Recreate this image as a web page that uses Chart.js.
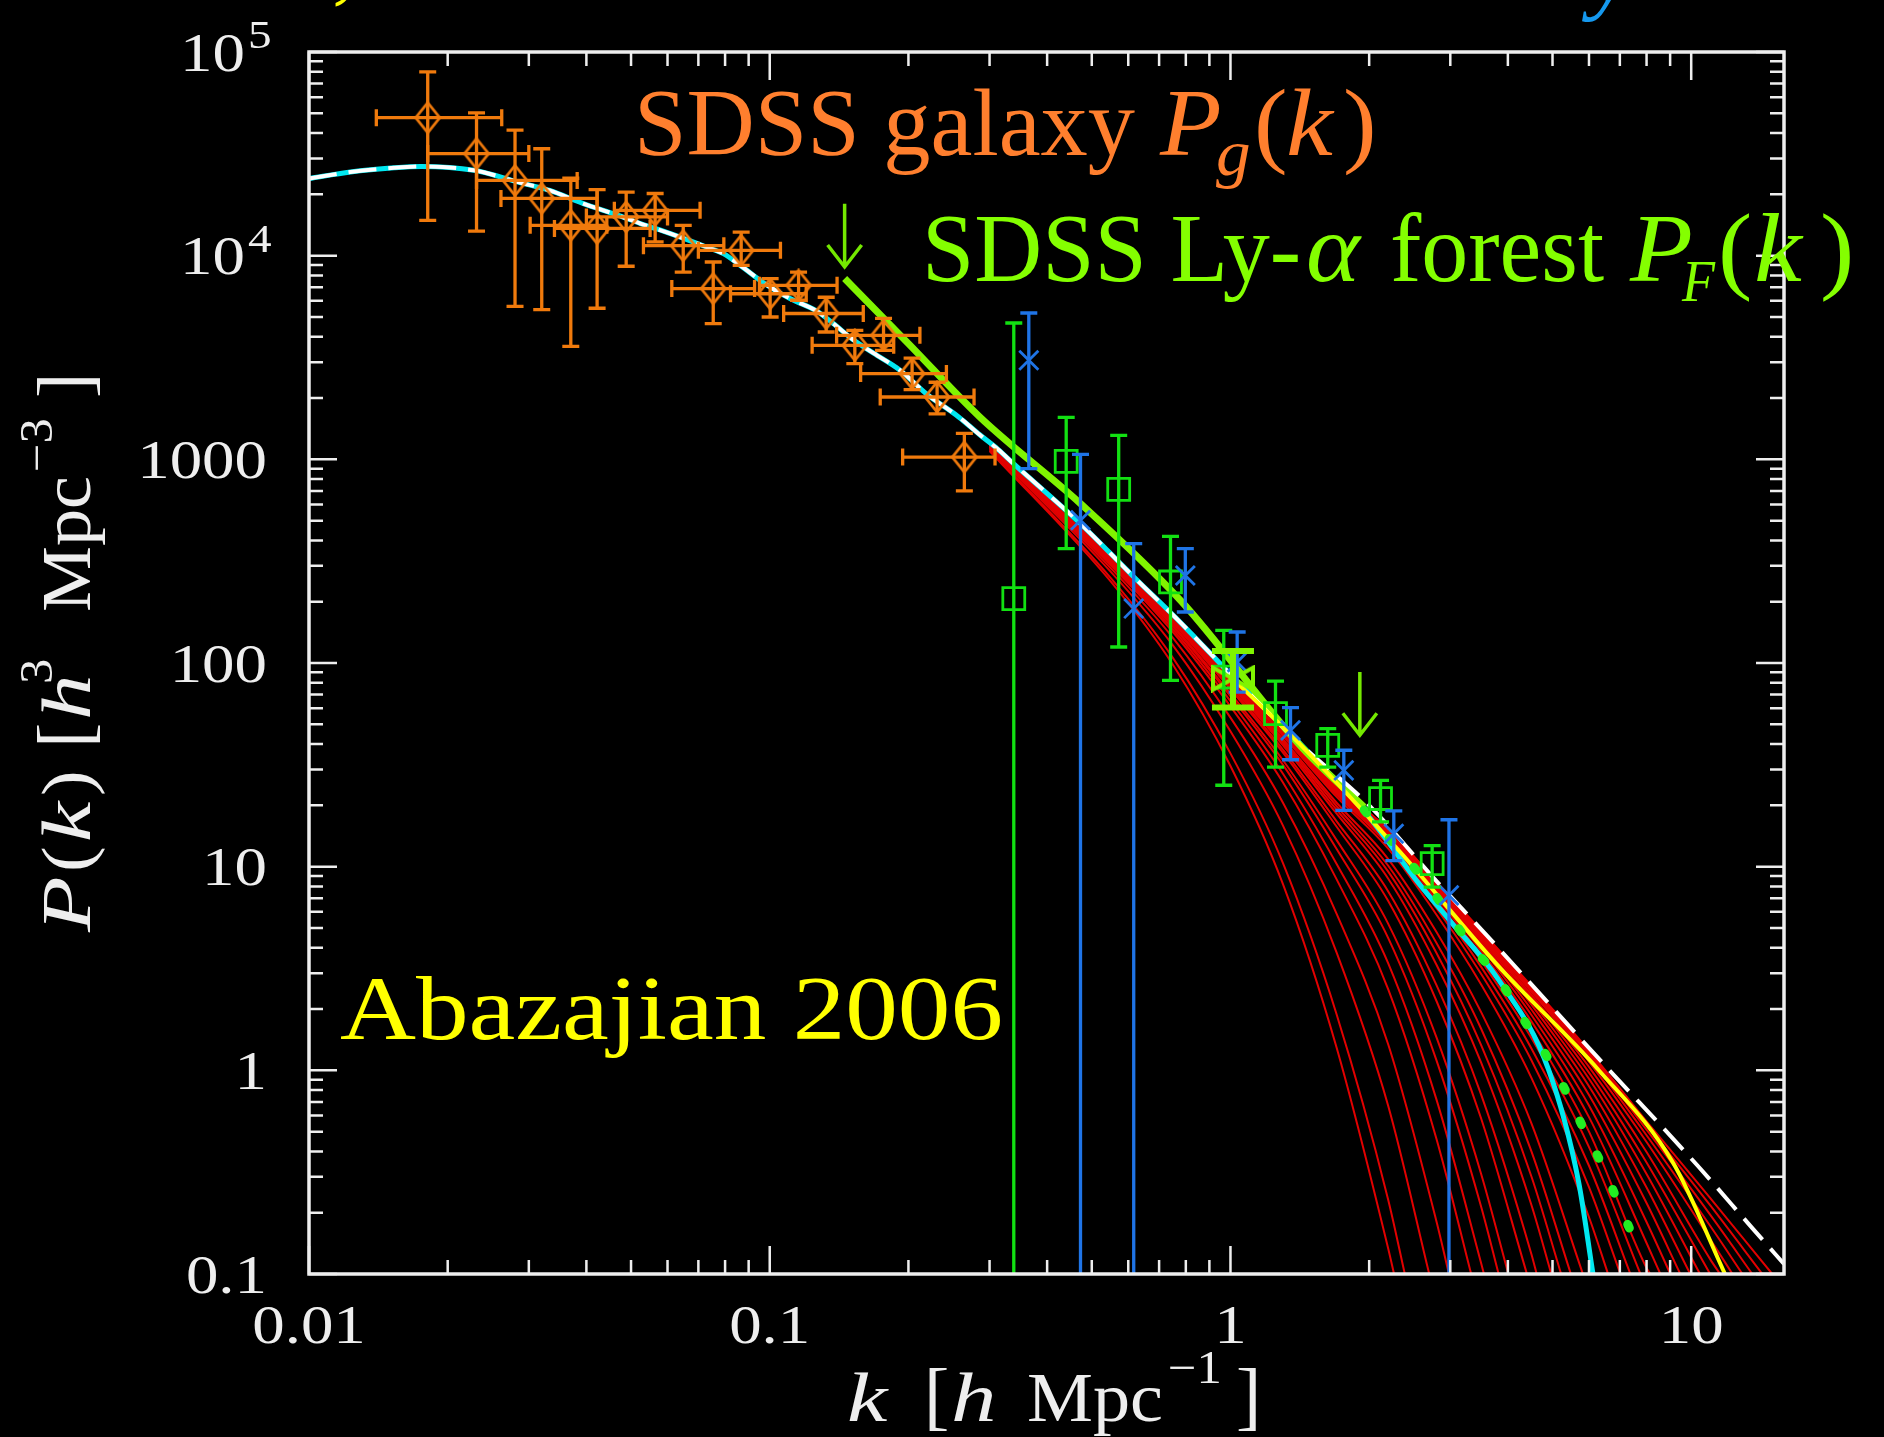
<!DOCTYPE html>
<html>
<head>
<meta charset="utf-8">
<title>Matter power spectrum P(k)</title>
<script src="https://cdn.jsdelivr.net/npm/chart.js@4.4.1/dist/chart.umd.min.js"></script>
<style>
html, body { margin: 0; padding: 0; background: #000; overflow: hidden; }
#wrap { width: 1884px; height: 1437px; }
canvas { display: block; }
</style>
</head>
<body>
<div id="wrap"><canvas id="pk" width="1884" height="1437"></canvas></div>
<script>
// ---------- SDSS galaxy P_g(k) band powers ----------
const galK   = [0.0181, 0.0231, 0.0280, 0.0320, 0.0370, 0.0422, 0.0488, 0.0564, 0.0649, 0.0754, 0.0867, 0.1002, 0.1155, 0.1326, 0.1530, 0.1766, 0.2037, 0.2308, 0.2645];
const galP   = [47600, 31700, 23400, 19100, 14100, 13600, 15500, 16700, 11200, 6890, 10620, 6500, 7150, 5200, 3630, 4064, 2636, 2023, 1026];
const galPlo = [14900, 13200, 5640, 5430, 3590, 5520, 8870, 11700, 8310, 4640, 8960, 5000, 6040, 4220, 2950, 3430, 2200, 1672, 700];
const galPhi = [79800, 50200, 41300, 33500, 24000, 21100, 20500, 20200, 14100, 9310, 13050, 7720, 8310, 6250, 4300, 4920, 3140, 2390, 1340];
const galKlo = [0.0140, 0.0181, 0.0231, 0.0261, 0.0302, 0.0341, 0.0400, 0.0460, 0.0532, 0.0613, 0.0700, 0.0822, 0.0950, 0.1072, 0.1236, 0.1397, 0.1575, 0.1737, 0.1943];
const galKhi = [0.0262, 0.0300, 0.0382, 0.0422, 0.0443, 0.0550, 0.0600, 0.0706, 0.0795, 0.0927, 0.1055, 0.1200, 0.1400, 0.1596, 0.1858, 0.2118, 0.2418, 0.2776, 0.3083];

// ---------- Ly-alpha forest points: squares ----------
const sqK   = [0.3386, 0.440, 0.572, 0.741, 0.967, 1.2524, 1.626, 2.117, 2.74];
const sqP   = [207, 977, 712, 250, 85.3, 56.4, 39.4, 21.6, 10.35];
const sqPlo = [0.01, 364, 119.8, 82.2, 25.1, 30.8, 30.8, 16.6, 7.94];
const sqPhi = [4670, 1608, 1312, 419, 144.6, 81.5, 47.6, 26.5, 12.7];

// ---------- Ly-alpha forest points: crosses ----------
const xsK   = [0.365, 0.4726, 0.6166, 0.798, 1.034, 1.35, 1.762, 2.262, 2.98];
const xsP   = [3066, 502, 185, 269, 101, 46.7, 29.7, 14.5, 7.23];
const xsPlo = [900, 0.01, 0.01, 178, 72, 33.5, 18.9, 10.7, 0.01];
const xsPhi = [5230, 1058, 386, 364, 142, 60.4, 37.3, 18.8, 17.0];

// ---------- linear P(k) constraint at k ~ 1 ----------
const bandK  = [1.0126];
const bandP  = [83.8];
const bandLo = [60.4];
const bandHi = [114.5];

// ---------- fitted range arrows ----------
const arrowK    = [0.1454, 1.909];
const arrowTopP = [18000, 90.3];
const arrowTipP = [8800, 44.2];

// ---------- model curves ----------
const modelK = [0.01, 0.0123, 0.0153, 0.0175, 0.0228, 0.0283, 0.0333, 0.0394, 0.0466, 0.0524, 0.0609, 0.0731, 0.0795, 0.0863, 0.0985, 0.1109, 0.1265, 0.1374, 0.1523, 0.168, 0.1917, 0.2186, 0.2566, 0.2857, 0.3128, 0.3386, 0.4726, 0.6084, 0.7835, 1.02, 1.4255];
const modelP = [23900, 25760, 27000, 27400, 26240, 23040, 20900, 18000, 15850, 14380, 12830, 11000, 10200, 8960, 7180, 6140, 5340, 4640, 3840, 3320, 2740, 2100, 1620, 1320, 1120, 950, 483, 273, 156, 84, 39.6];
const cdmTailK  = [2.0, 2.8, 3.82, 6.28, 10.33, 13.6, 15.9];
const cdmTailP  = [20, 8.5, 3.97, 1.15, 0.34, 0.167, 0.112];
const cyanTailK = [2.0, 2.56, 2.98, 3.82, 4.9, 5.69, 6.12];
const cyanTailP = [17.5, 8.3, 5.5, 2.78, 1.01, 0.287, 0.1];
const lyaFitK = [0.1454, 0.2, 0.2857, 0.4726, 0.7835, 1.4255, 1.95];
const lyaFitP = [7720, 3700, 1614, 606, 200, 38.7, 19.6];
const yellowK = [1.0, 1.43, 2.32, 3.82, 6.28, 9.14, 11.84];
const yellowP = [86, 39, 12.0, 3.24, 1.01, 0.351, 0.1];
const dotK = [1.95, 2.6, 3.35, 3.81, 4.26, 4.82, 5.33, 5.82, 6.44, 7.0, 7.63];
const dotP = [19.0, 8.9, 4.03, 2.85, 1.88, 1.21, 0.80, 0.525, 0.334, 0.215, 0.138];

// ---------- suppressed (warm/sterile) spectra ----------
const redGridK = [0.3, 0.55, 0.75, 1.0, 1.3, 1.7, 2.2, 2.8, 3.5, 4.5, 6, 8, 11];
const redEndK  = [2.265, 2.39, 2.70, 2.98, 3.33, 3.55, 3.82, 4.01, 4.40, 4.62, 4.97, 5.22, 5.48, 5.82, 6.60, 7.02, 7.38, 7.76, 8.15, 8.57, 9.01, 9.47, 9.95, 10.45, 10.99, 11.55, 12.29, 12.92, 13.57, 14.27, 14.99];
const redP = [
  [1099, 251, 98, 31.2, 8.2, 1.29, 0.133],
  [1110, 261, 106, 36.0, 10.4, 1.88, 0.231],
  [1130, 280, 122, 46.2, 15.9, 3.78, 0.668],
  [1143, 292, 133, 53.9, 20.6, 5.87, 1.34, 0.181],
  [1153, 302, 142, 61.2, 25.9, 8.66, 2.50, 0.46],
  [1158, 307, 146.5, 65.0, 28.6, 10.3, 3.35, 0.718, 0.113],
  [1162, 311, 151, 68.7, 31.6, 12.2, 4.46, 1.12, 0.214],
  [1165, 314, 153, 70.8, 33.3, 13.5, 5.24, 1.45, 0.31],
  [1169, 318, 157, 74.3, 36.3, 15.7, 6.78, 2.19, 0.58],
  [1170, 320, 159, 75.9, 37.6, 16.7, 7.56, 2.62, 0.76, 0.125],
  [1172, 322, 161, 77.8, 39.4, 18.2, 8.73, 3.30, 1.09, 0.218],
  [1174, 323, 162, 78.9, 40.4, 19.0, 9.46, 3.77, 1.33, 0.301],
  [1175, 324, 163.5, 80.0, 41.3, 19.8, 10.1, 4.22, 1.60, 0.40],
  [1175, 325, 164.6, 81.0, 42.3, 20.6, 10.9, 4.78, 1.93, 0.549],
  [1178, 327, 166, 82.6, 43.8, 22.0, 12.25, 5.81, 2.64, 0.918, 0.19],
  [1178, 328, 167, 83.3, 44.4, 22.6, 12.8, 6.25, 2.97, 1.12, 0.267],
  [1179, 328, 167.5, 83.7, 44.8, 23.0, 13.2, 6.57, 3.22, 1.28, 0.34],
  [1180, 329, 168, 84.1, 45.2, 23.3, 13.5, 6.85, 3.45, 1.44, 0.42],
  [1180, 329, 168.5, 84.4, 45.5, 23.6, 13.8, 7.10, 3.65, 1.59, 0.50, 0.107],
  [1180, 329, 169, 84.7, 45.8, 23.8, 14.0, 7.33, 3.85, 1.74, 0.589, 0.142],
  [1180, 330, 169, 84.9, 46.0, 24.0, 14.3, 7.52, 4.01, 1.87, 0.672, 0.18],
  [1180, 330, 169.5, 85.1, 46.2, 24.2, 14.4, 7.69, 4.16, 1.99, 0.757, 0.223],
  [1180, 330, 169.5, 85.2, 46.3, 24.3, 14.6, 7.84, 4.29, 2.10, 0.836, 0.266],
  [1180, 330, 170, 85.4, 46.5, 24.5, 14.7, 7.96, 4.40, 2.19, 0.909, 0.31],
  [1180, 330, 170, 85.5, 46.6, 24.6, 14.85, 8.06, 4.50, 2.28, 0.975, 0.353],
  [1180, 330, 170, 85.6, 46.7, 24.7, 14.95, 8.15, 4.58, 2.35, 1.04, 0.397, 0.118],
  [1180, 330, 170, 85.7, 46.8, 24.8, 15.05, 8.25, 4.67, 2.43, 1.10, 0.445, 0.148],
  [1180, 330, 170, 85.8, 46.9, 24.9, 15.1, 8.31, 4.73, 2.48, 1.15, 0.48, 0.172],
  [1180, 330, 170, 85.9, 46.9, 24.9, 15.15, 8.36, 4.78, 2.53, 1.19, 0.511, 0.195],
  [1180, 330, 170, 86, 47, 25, 15.2, 8.4, 4.82, 2.56, 1.22, 0.539, 0.217],
  [1180, 330, 170, 86, 47, 25, 15.25, 8.45, 4.86, 2.60, 1.25, 0.562, 0.236]
];

// ---------- axes ----------
const xRange = [0.01, 15.9];
const yRange = [0.1, 1e5];
const xTickVals   = [0.01, 0.1, 1, 10];
const xTickLabels = ['0.01', '0.1', '1', '10'];
const yTickVals   = [0.1, 1, 10, 100, 1000, 1e4, 1e5];
const yTickLabels = ['0.1', '1', '10', '100', '1000', '10^4', '10^5'];

// ---------- styling ----------
const C = {
  axis: '#eeeeee', orange: '#f07a0c', orangeText: '#ff7f2e', green: '#12e012',
  dots: '#22ee22', lime: '#80f400', limeText: '#84ff00', blue: '#1f74e6', cyan: '#00e8f0',
  red: '#e20000', yellow: '#ffff00', white: '#ffffff', azure: '#1598ee'
};
const SERIF = '"Liberation Serif", "DejaVu Serif", serif';
const fnt = (size, italic) => (italic ? 'italic ' : '') + size + 'px ' + SERIF;

const pts = (ks, ps) => ks.map((k, i) => ({ x: k, y: ps[i] }));

function lineSet(data, color, width, order, extra) {
  return Object.assign({
    type: 'line', data, borderColor: color, borderWidth: width,
    pointRadius: 0, fill: false, cubicInterpolationMode: 'monotone',
    order, clip: 0
  }, extra || {});
}
function markerSet(data, style, radius, color, order) {
  return {
    type: 'line', data, showLine: false, pointStyle: style, pointRadius: radius,
    pointBorderColor: color, pointBackgroundColor: 'rgba(0,0,0,0)',
    pointBorderWidth: 2.8, order
  };
}
function markerImage(w, h, color, lw, path) {
  const cv = document.createElement('canvas');
  cv.width = w; cv.height = h;
  const g = cv.getContext('2d');
  g.strokeStyle = color; g.lineWidth = lw; g.lineJoin = 'miter';
  g.beginPath();
  path.forEach((p, i) => (i ? g.lineTo(p[0], p[1]) : g.moveTo(p[0], p[1])));
  g.closePath();
  g.stroke();
  return cv;
}
// tall diamond for the galaxy band powers, bow-tie for the linear constraint
const diamond = markerImage(28, 34, C.orange, 2.8, [[14, 2], [26, 17], [14, 32], [2, 17]]);
const bowTie  = markerImage(46, 28, C.lime, 4, [[3, 3], [43, 25], [43, 3], [3, 25]]);

const datasets = [];
redP.forEach((row, i) => {
  const data = row.map((p, j) => ({ x: redGridK[j], y: p }));
  data.push({ x: redEndK[i], y: 0.1 });
  datasets.push(lineSet(data, C.red, 2, 20));
});
datasets.push(lineSet(pts(modelK.concat(cyanTailK), modelP.concat(cyanTailP)), C.cyan, 5, 12));
datasets.push(lineSet(pts(lyaFitK, lyaFitP), C.lime, 7, 11));
datasets.push(lineSet(pts(modelK.concat(cdmTailK), modelP.concat(cdmTailP)), C.white, 4, 10, { borderDash: [28, 12] }));
datasets.push(lineSet(pts(yellowK, yellowP), C.yellow, 4, 9));
datasets.push(lineSet(pts(dotK, dotP), C.dots, 9, 8, { borderDash: [4, 34], borderCapStyle: 'round' }));
datasets.push({ type: 'line', data: pts(galK, galP), showLine: false, pointStyle: diamond, pointRadius: 14, order: 3 });
datasets.push(markerSet(pts(sqK, sqP), 'rect', 15.5, C.green, 2));
datasets.push(markerSet(pts(xsK, xsP), 'crossRot', 13.5, C.blue, 1));
datasets.push({ type: 'line', data: pts(bandK, bandP), showLine: false, pointStyle: bowTie, pointRadius: 14, order: 0 });

// ---------- drawing helpers ----------
function glyph(ctx, str, x, y, font, sx, align) {
  ctx.font = font;
  const w = ctx.measureText(str).width * sx;
  let x0 = x;
  if (align === 'right') x0 = x - w; else if (align === 'center') x0 = x - w / 2;
  ctx.save();
  ctx.translate(x0, y); ctx.scale(sx, 1);
  ctx.textAlign = 'left'; ctx.textBaseline = 'alphabetic';
  ctx.fillText(str, 0, 0);
  ctx.restore();
  return w;
}
function fitText(ctx, str, x, y, font, width) {
  ctx.font = font;
  const sx = width / ctx.measureText(str).width;
  return glyph(ctx, str, x, y, font, sx, 'left');
}
function vbar(ctx, x, y1, y2, c) {
  ctx.beginPath();
  ctx.moveTo(x, y1); ctx.lineTo(x, y2);
  ctx.moveTo(x - c, y1); ctx.lineTo(x + c, y1);
  ctx.moveTo(x - c, y2); ctx.lineTo(x + c, y2);
  ctx.stroke();
}
function hbar(ctx, y, x1, x2, c) {
  ctx.beginPath();
  ctx.moveTo(x1, y); ctx.lineTo(x2, y);
  ctx.moveTo(x1, y - c); ctx.lineTo(x1, y + c);
  ctx.moveTo(x2, y - c); ctx.lineTo(x2, y + c);
  ctx.stroke();
}

const decor = {
  id: 'decor',
  afterDatasetsDraw(chart) {
    const { ctx, chartArea: a } = chart;
    const xs = chart.scales.x, ys = chart.scales.y;
    const X = v => xs.getPixelForValue(v), Y = v => ys.getPixelForValue(v);
    ctx.save();
    ctx.beginPath(); ctx.rect(a.left, a.top, a.right - a.left, a.bottom - a.top); ctx.clip();
    ctx.lineCap = 'butt';
    ctx.lineWidth = 3.3;
    // galaxy band powers
    ctx.strokeStyle = C.orange;
    galK.forEach((k, i) => {
      vbar(ctx, X(k), Y(galPlo[i]), Y(galPhi[i]), 8.5);
      hbar(ctx, Y(galP[i]), X(galKlo[i]), X(galKhi[i]), 8.5);
    });
    // Ly-alpha squares
    ctx.strokeStyle = C.green;
    sqK.forEach((k, i) => vbar(ctx, X(k), Y(sqPlo[i]), Y(sqPhi[i]), 8.5));
    // Ly-alpha crosses
    ctx.strokeStyle = C.blue;
    xsK.forEach((k, i) => vbar(ctx, X(k), Y(xsPlo[i]), Y(xsPhi[i]), 8.5));
    // linear constraint band
    ctx.strokeStyle = C.lime; ctx.lineWidth = 6;
    bandK.forEach((k, i) => vbar(ctx, X(k), Y(bandLo[i]), Y(bandHi[i]), 21));
    // arrows marking the fitted range
    ctx.lineWidth = 3.5; ctx.strokeStyle = '#74e800'; ctx.lineJoin = 'miter';
    arrowK.forEach((k, i) => {
      const x = X(k), y1 = Y(arrowTopP[i]), y2 = Y(arrowTipP[i]);
      ctx.beginPath();
      ctx.moveTo(x, y1); ctx.lineTo(x, y2);
      ctx.moveTo(x - 17, y2 - 22); ctx.lineTo(x, y2); ctx.lineTo(x + 17, y2 - 22);
      ctx.stroke();
    });
    ctx.restore();
  },
  afterDraw(chart) {
    const { ctx, chartArea: a } = chart;
    const xs = chart.scales.x, ys = chart.scales.y;
    ctx.save();
    // frame
    ctx.strokeStyle = C.axis; ctx.lineWidth = 3.5;
    ctx.strokeRect(a.left, a.top, a.right - a.left, a.bottom - a.top);
    // ticks on all four sides
    ctx.lineWidth = 2.5;
    ctx.beginPath();
    for (let e = -2; e <= 1; e++) {
      for (let m = 1; m <= 9; m++) {
        const v = m * Math.pow(10, e);
        if (v < xRange[0] * 0.999 || v > xRange[1]) continue;
        const px = xs.getPixelForValue(v), len = m === 1 ? 28 : 14;
        ctx.moveTo(px, a.bottom); ctx.lineTo(px, a.bottom - len);
        ctx.moveTo(px, a.top); ctx.lineTo(px, a.top + len);
      }
    }
    for (let e = -1; e <= 5; e++) {
      for (let m = 1; m <= 9; m++) {
        const v = m * Math.pow(10, e);
        if (v < yRange[0] * 0.999 || v > yRange[1] * 1.001) continue;
        const py = ys.getPixelForValue(v), len = m === 1 ? 28 : 14;
        ctx.moveTo(a.left, py); ctx.lineTo(a.left + len, py);
        ctx.moveTo(a.right, py); ctx.lineTo(a.right - len, py);
      }
    }
    ctx.stroke();

    // tick labels
    ctx.fillStyle = C.axis;
    const tickFont = fnt(55), supFont = fnt(40), TSX = 1.18;
    xTickVals.forEach((v, i) => glyph(ctx, xTickLabels[i], xs.getPixelForValue(v), a.bottom + 69, tickFont, TSX, 'center'));
    yTickVals.forEach((v, i) => {
      const py = ys.getPixelForValue(v), lab = yTickLabels[i];
      if (lab.indexOf('^') >= 0) {
        const parts = lab.split('^');
        glyph(ctx, parts[0], a.left - 64, py + 18.5, tickFont, TSX, 'right');
        glyph(ctx, parts[1], a.left - 61, py - 4, supFont, TSX, 'left');
      } else {
        glyph(ctx, lab, a.left - 42, py + 18.5, tickFont, TSX, 'right');
      }
    });

    // x axis title: k [h Mpc^-1]
    const tb = a.bottom + 147, TS = 70, SUP = 46;
    glyph(ctx, 'k', 847, tb, fnt(TS, true), 1.3, 'left');
    glyph(ctx, '[', 924, tb, fnt(TS + 6), 1.0, 'left');
    glyph(ctx, 'h', 951, tb, fnt(TS, true), 1.3, 'left');
    glyph(ctx, 'Mpc', 1027, tb, fnt(TS), 1.06, 'left');
    glyph(ctx, '\u22121', 1168, tb - 38, fnt(SUP), 1.1, 'left');
    glyph(ctx, ']', 1236, tb, fnt(TS + 6), 1.0, 'left');

    // y axis title: P(k) [h^3 Mpc^-3]
    ctx.save();
    ctx.translate(90, 0);
    ctx.rotate(-Math.PI / 2);
    glyph(ctx, 'P', -932, 0, fnt(TS, true), 1.3, 'left');
    glyph(ctx, '(', -872, 0, fnt(TS), 1.1, 'left');
    glyph(ctx, 'k', -842, 0, fnt(TS, true), 1.3, 'left');
    glyph(ctx, ')', -796, 0, fnt(TS), 1.1, 'left');
    glyph(ctx, '[', -748, 0, fnt(TS + 6), 1.0, 'left');
    glyph(ctx, 'h', -720, 0, fnt(TS, true), 1.3, 'left');
    glyph(ctx, '3', -684, -38, fnt(SUP), 1.1, 'left');
    glyph(ctx, 'Mpc', -612, 0, fnt(TS), 1.06, 'left');
    glyph(ctx, '\u22123', -472, -38, fnt(SUP), 1.1, 'left');
    glyph(ctx, ']', -398, 0, fnt(TS + 6), 1.0, 'left');
    ctx.restore();

    // annotations
    ctx.fillStyle = C.orangeText;
    fitText(ctx, 'SDSS galaxy', 634, 155, fnt(96), 501);
    glyph(ctx, 'P', 1160, 155, fnt(96, true), 1.05, 'left');
    glyph(ctx, 'g', 1216, 175, fnt(66, true), 1.05, 'left');
    glyph(ctx, '(', 1254, 155, fnt(96), 1.05, 'left');
    glyph(ctx, 'k', 1286, 155, fnt(96, true), 1.1, 'left');
    glyph(ctx, ')', 1343, 155, fnt(96), 1.05, 'left');

    ctx.fillStyle = C.limeText;
    fitText(ctx, 'SDSS Ly-', 922, 281, fnt(98), 379);
    glyph(ctx, '\u03b1', 1306, 281, fnt(98, true), 1.05, 'left');
    fitText(ctx, 'forest', 1390, 281, fnt(98), 214);
    glyph(ctx, 'P', 1630, 281, fnt(98, true), 1.05, 'left');
    glyph(ctx, 'F', 1682, 301, fnt(60, true), 0.9, 'left');
    glyph(ctx, '(', 1718, 281, fnt(98), 1.05, 'left');
    glyph(ctx, 'k', 1754, 281, fnt(98, true), 1.1, 'left');
    glyph(ctx, ')', 1820, 281, fnt(98), 1.05, 'left');

    ctx.fillStyle = C.yellow;
    fitText(ctx, 'Abazajian 2006', 340, 1039, fnt(90), 663);

    // lower edge of the caption line above the panel
    glyph(ctx, ',', 332, -8, fnt(95), 1.0, 'left');
    ctx.fillStyle = C.azure;
    glyph(ctx, 'y', 1590, 2, fnt(95, true), 1.0, 'left');
    ctx.restore();
  }
};

new Chart(document.getElementById('pk'), {
  type: 'line',
  data: { datasets },
  options: {
    responsive: false,
    maintainAspectRatio: false,
    devicePixelRatio: 1,
    animation: false,
    events: [],
    layout: { padding: { top: 52, right: 100, left: 0, bottom: 0 } },
    plugins: { legend: { display: false }, tooltip: { enabled: false } },
    scales: {
      x: {
        type: 'logarithmic', position: 'bottom', min: xRange[0], max: xRange[1],
        grid: { display: false }, border: { display: false }, ticks: { display: false },
        afterFit: s => { s.height = 163; }
      },
      y: {
        type: 'logarithmic', position: 'left', min: yRange[0], max: yRange[1],
        grid: { display: false }, border: { display: false }, ticks: { display: false },
        afterFit: s => { s.width = 309; }
      }
    }
  },
  plugins: [decor]
});
</script>
</body>
</html>
